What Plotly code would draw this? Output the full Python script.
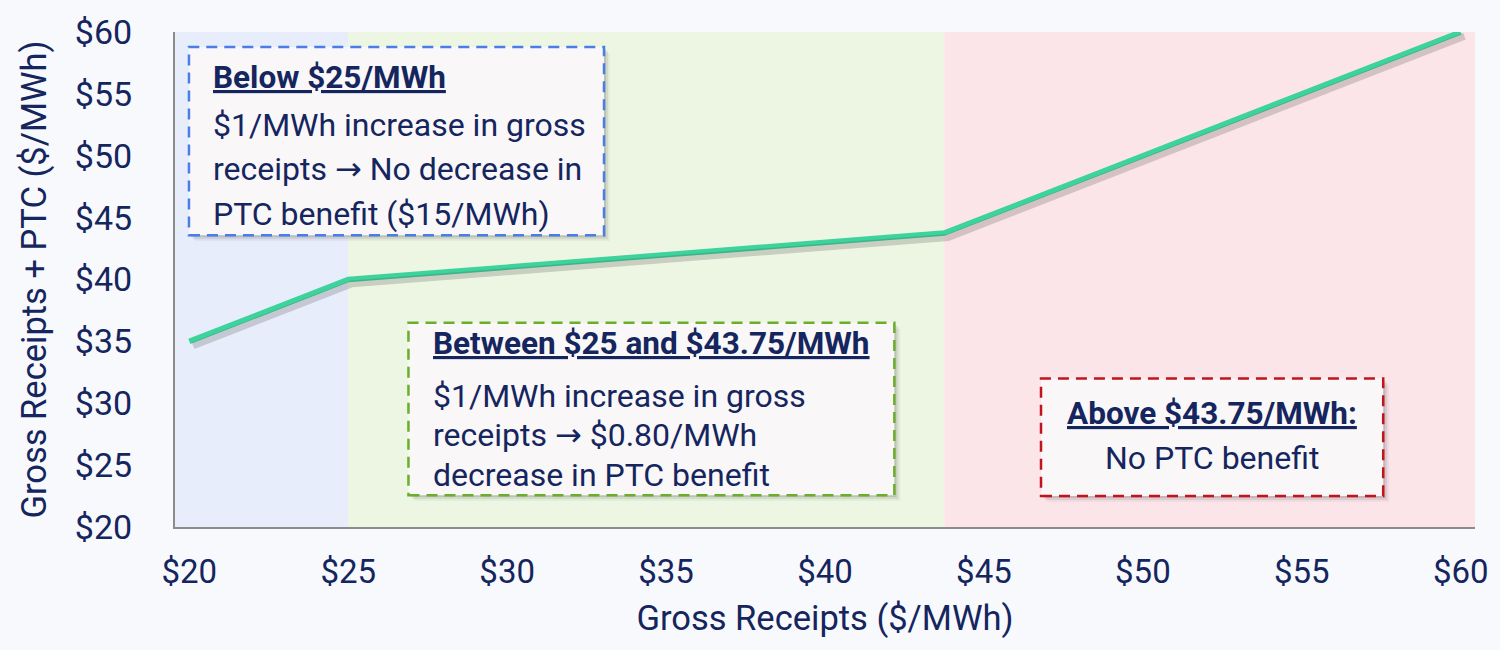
import plotly.graph_objects as go

# ---------------- data ----------------
gross_receipts = [20, 25, 43.75, 60]
receipts_plus_ptc = [35, 40, 43.75, 60]
zone_edges = [25, 43.75]           # boundaries of the three PTC regimes
x_ticks = [20, 25, 30, 35, 40, 45, 50, 55, 60]
y_ticks = [20, 25, 30, 35, 40, 45, 50, 55, 60]
x_tick_labels = ["$" + str(v) for v in x_ticks]
y_tick_labels = ["$" + str(v) for v in y_ticks]

ARROW = "<span style='font-family:DejaVu Sans'>\u2192</span>"
box_titles = ["Below $25/MWh", "Between $25 and $43.75/MWh", "Above $43.75/MWh:"]
box1_lines = ["$1/MWh increase in gross", f"receipts {ARROW} No decrease in", "PTC benefit ($15/MWh)"]
box2_lines = ["$1/MWh increase in gross", f"receipts {ARROW} $0.80/MWh", "decrease in PTC benefit"]
box3_lines = ["No PTC benefit"]

# ---------------- styling ----------------
W, H = 1500, 650
L, R, T, B = 175, 1478, 30, 527
NAVY = "#15255E"
FONT = "Roboto"
X_RANGE = [19.55, 60.45]
Y_RANGE = [20, 60]
zone_colors = ["#E7EDFA", "#EDF6E3", "#FCE5E9"]
box_border = ["#4A7DE6", "#6BAD2D", "#C0151D"]
BOX_FILL = "#F9F7F8"


def px(xp):
    return (xp - L) / (R - L)


def py(yp):
    return (B - yp) / (B - T)


fig = go.Figure()

# shadow of the line (same data, drawn on slightly shifted twin axes)
fig.add_trace(go.Scatter(
    x=gross_receipts, y=receipts_plus_ptc, mode="lines",
    line=dict(color="rgba(70,70,70,0.22)", width=7),
    xaxis="x2", yaxis="y2", hoverinfo="skip", showlegend=False, cliponaxis=False,
))
fig.add_trace(go.Scatter(
    x=gross_receipts, y=receipts_plus_ptc, mode="lines",
    line=dict(color="#3DD39C", width=5.5),
    showlegend=False, cliponaxis=False,
))

shapes = []
bounds = [X_RANGE[0]] + zone_edges + [X_RANGE[1]]
for i, c in enumerate(zone_colors):
    shapes.append(dict(type="rect", xref="x", yref="paper", x0=bounds[i], x1=bounds[i + 1],
                       y0=0, y1=1, fillcolor=c, line=dict(width=0), layer="below"))

box_px = [(189, 45, 605, 234), (409, 322, 896, 495), (1043, 378, 1386, 496)]
for (x0, y0, x1, y1), bc in zip(box_px, box_border):
    for off, a in [(6, 0.06), (4, 0.10), (2, 0.14)]:
        shapes.append(dict(type="rect", xref="paper", yref="paper",
                           x0=px(x0 + off), x1=px(x1 + off), y0=py(y1 + off), y1=py(y0 + off),
                           fillcolor=f"rgba(60,60,60,{a})", line=dict(width=0), layer="above"))
    shapes.append(dict(type="rect", xref="paper", yref="paper",
                       x0=px(x0), x1=px(x1), y0=py(y1), y1=py(y0),
                       fillcolor=BOX_FILL, line=dict(color=bc, width=2.5, dash="11px,7px"),
                       layer="above"))

annotations = []


def add_text(xp, yp, text, size, anchor="left"):
    annotations.append(dict(xref="paper", yref="paper", x=px(xp), y=py(yp), xanchor=anchor,
                            yanchor="middle", text=text, showarrow=False, align=anchor,
                            font=dict(family=FONT, size=size, color=NAVY)))


# box 1
add_text(211, 76, f"<b><u>{box_titles[0]}</u></b>", 31.5)
for i, s in enumerate(box1_lines):
    add_text(211, 123 + 45 * i, s, 32)
# box 2
add_text(432, 343, f"<b><u>{box_titles[1]}</u></b>", 31.5)
for i, s in enumerate(box2_lines):
    add_text(432, 395 + 40 * i, s, 32)
# box 3
add_text(1214, 413, f"<b><u>{box_titles[2]}</u></b>", 31.5, "center")
add_text(1214, 458, box3_lines[0], 32, "center")

fig.update_layout(
    width=W, height=H,
    margin=dict(l=L, r=W - R, t=T, b=H - B, pad=0),
    paper_bgcolor="#F8F9FC", plot_bgcolor="#F8F9FC",
    font=dict(family=FONT, color=NAVY, size=32),
    shapes=shapes, annotations=annotations, showlegend=False,
    xaxis=dict(range=X_RANGE, tickvals=x_ticks, ticktext=x_tick_labels, showgrid=False, zeroline=False,
               showline=True, linecolor="#8C8C8C", linewidth=2, ticks="", ticklabelstandoff=14,
               tickfont=dict(size=33, color=NAVY, family=FONT),
               title=dict(text="Gross Receipts ($/MWh)", font=dict(size=34.5, color=NAVY, family=FONT), standoff=16)),
    yaxis=dict(range=Y_RANGE, tickvals=y_ticks, ticktext=y_tick_labels, showgrid=False, zeroline=False,
               showline=True, linecolor="#8C8C8C", linewidth=2, ticks="", ticklabelstandoff=34,
               tickfont=dict(size=34, color=NAVY, family=FONT),
               title=dict(text="Gross Receipts + PTC ($/MWh)", font=dict(size=34.5, color=NAVY, family=FONT), standoff=18)),
    xaxis2=dict(range=[X_RANGE[0] - 0.12, X_RANGE[1] - 0.12], overlaying="x", visible=False),
    yaxis2=dict(range=[Y_RANGE[0] + 0.35, Y_RANGE[1] + 0.35], overlaying="y", visible=False, anchor="x2"),
)

fig.write_html("out.html", config={"displayModeBar": False},
               post_script="document.body.style.margin='0';document.body.style.overflow='hidden';")
